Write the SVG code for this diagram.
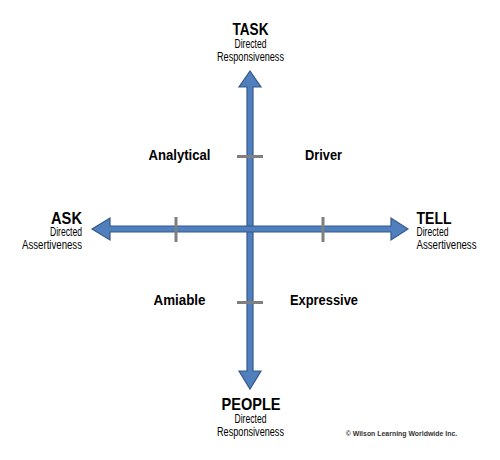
<svg xmlns="http://www.w3.org/2000/svg" width="500" height="460" viewBox="0 0 500 460">
<style>
text{font-family:"Liberation Sans",Arial,Helvetica,sans-serif;fill:#000}
.big{font-size:16.5px;font-weight:bold}
.sm{font-size:12px}
.q{font-size:14px;font-weight:bold}
.c{text-anchor:middle}
.e{text-anchor:end}
.arrow{fill:#4F7FBC;stroke:#36598A;stroke-width:1.2;stroke-linejoin:miter}
.tick{stroke:#7F7F7F;stroke-width:3;fill:none}
.copy{font-size:7.5px;font-weight:bold;fill:#333}
</style>
<rect width="500" height="460" fill="#fff"/>
<g id="connectors">
<polygon class="arrow" points="250,71 261,87 253,87 253,371 261,371 250,389 239,371 247,371 247,87 239,87"/>
<polygon class="arrow" points="92,229 110,218 110,226 391,226 391,218 408,229 391,240 391,232 110,232 110,240"/>
<line class="tick" x1="237" y1="156.5" x2="263" y2="156.5"/>
<line class="tick" x1="237" y1="302.5" x2="263" y2="302.5"/>
<line class="tick" x1="176" y1="217" x2="176" y2="242"/>
<line class="tick" x1="323" y1="217" x2="323" y2="242"/>
</g>
<g id="task">
<text class="big c" x="250.5" y="35" textLength="36" lengthAdjust="spacingAndGlyphs">TASK</text>
<text class="sm c" x="250.5" y="47.5" textLength="32" lengthAdjust="spacingAndGlyphs">Directed</text>
<text class="sm c" x="250.5" y="60.5" textLength="67" lengthAdjust="spacingAndGlyphs">Responsiveness</text>
</g>
<g id="people">
<text class="big c" x="251" y="410" textLength="59" lengthAdjust="spacingAndGlyphs">PEOPLE</text>
<text class="sm c" x="250.5" y="422.5" textLength="32" lengthAdjust="spacingAndGlyphs">Directed</text>
<text class="sm c" x="250.5" y="435.5" textLength="67" lengthAdjust="spacingAndGlyphs">Responsiveness</text>
</g>
<g id="ask">
<text class="big e" x="82" y="223.5" textLength="31" lengthAdjust="spacingAndGlyphs">ASK</text>
<text class="sm e" x="82" y="236" textLength="32" lengthAdjust="spacingAndGlyphs">Directed</text>
<text class="sm e" x="82" y="248.5" textLength="60" lengthAdjust="spacingAndGlyphs">Assertiveness</text>
</g>
<g id="tell">
<text class="big" x="416.5" y="223.5" textLength="35" lengthAdjust="spacingAndGlyphs">TELL</text>
<text class="sm" x="416.5" y="236" textLength="32" lengthAdjust="spacingAndGlyphs">Directed</text>
<text class="sm" x="416.5" y="248.5" textLength="60" lengthAdjust="spacingAndGlyphs">Assertiveness</text>
</g>
<g id="analytical"><text class="q" x="148.5" y="159.5" textLength="62" lengthAdjust="spacingAndGlyphs">Analytical</text></g>
<g id="driver"><text class="q" x="305" y="159.5" textLength="37" lengthAdjust="spacingAndGlyphs">Driver</text></g>
<g id="amiable"><text class="q" x="153.5" y="305" textLength="52" lengthAdjust="spacingAndGlyphs">Amiable</text></g>
<g id="expressive"><text class="q" x="290" y="305" textLength="68" lengthAdjust="spacingAndGlyphs">Expressive</text></g>
<g id="copyright"><text class="copy" x="345.7" y="436" textLength="111.5" lengthAdjust="spacingAndGlyphs">© Wilson Learning Worldwide Inc.</text></g>
</svg>
